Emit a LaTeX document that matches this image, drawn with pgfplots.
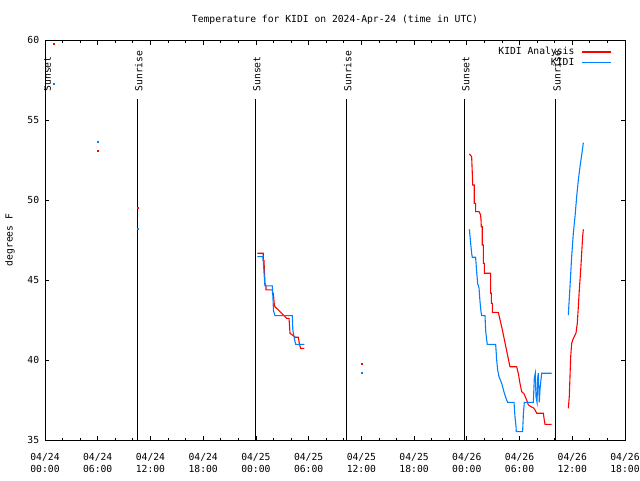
\documentclass[border=0pt]{standalone}
\usepackage{fontspec}
\setmainfont{DejaVu Sans Mono}
\usepackage{pgfplots}
\pgfplotsset{compat=1.18}
\usepackage{pgfplotstable}
\definecolor{kred}{RGB}{255,0,0}
\definecolor{kblue}{RGB}{0,128,255}
\newcommand\gf{\fontsize{9.7}{12}\selectfont}

\pgfplotstableread{
h T
24.16 46.67
24.84 46.67
24.84 46.21
24.92 46.21
25.03 44.79
25.15 44.60
25.15 44.38
25.87 44.38
25.87 44.17
25.98 44.17
26.10 43.44
26.17 43.33
27.31 42.71
27.50 42.60
27.77 42.60
27.88 41.67
28.50 41.42
28.83 41.42
28.95 41.00
29.09 40.73
29.51 40.73
}\redA
\pgfplotstableread{
h T
24.16 46.46
24.78 46.46
24.84 46.21
25.00 44.79
25.03 44.63
25.87 44.63
25.95 43.75
26.00 43.08
26.17 42.77
28.14 42.77
28.20 41.88
28.37 41.35
28.52 40.98
29.51 40.98
}\blueA
\pgfplotstableread{
h T
48.29 52.88
48.55 52.71
48.60 52.00
48.67 50.94
48.85 50.94
48.85 49.79
49.00 49.79
49.00 49.27
49.39 49.27
49.55 49.10
49.61 48.80
49.65 48.33
49.76 48.33
49.76 47.19
49.88 47.19
49.88 46.04
49.99 46.04
49.99 45.42
50.71 45.42
50.71 44.17
50.79 44.17
50.79 43.54
50.90 43.54
50.90 42.98
51.59 42.98
51.70 42.70
52.00 42.00
52.30 41.20
52.60 40.40
52.91 39.58
53.67 39.58
53.86 39.17
54.05 38.54
54.24 38.02
54.50 37.90
54.81 37.50
55.00 37.20
55.19 37.12
55.60 37.00
55.76 36.88
55.95 36.67
56.71 36.67
56.80 36.30
56.90 35.98
57.65 35.98
}\redB
\pgfplotstableread{
h T
48.29 48.17
48.44 47.29
48.55 46.67
48.62 46.42
49.00 46.42
49.12 45.52
49.23 44.79
49.39 44.50
49.50 43.65
49.61 43.02
49.69 42.77
50.07 42.77
50.14 41.88
50.26 41.25
50.33 40.98
51.28 40.98
51.40 40.00
51.51 39.38
51.66 38.96
51.97 38.54
52.27 37.92
52.53 37.50
52.65 37.35
53.37 37.35
53.48 36.46
53.60 35.83
53.63 35.52
54.35 35.52
54.43 36.56
54.54 37.35
55.57 37.35
55.68 38.85
55.79 39.17
55.87 37.71
55.99 37.35
56.06 38.85
56.13 39.17
56.25 37.35
56.33 38.20
56.52 39.17
57.66 39.17
}\blueB
\pgfplotstableread{
h T
59.55 36.98
59.66 37.71
59.74 38.96
59.82 40.21
59.93 41.04
60.12 41.35
60.42 41.67
60.57 42.29
60.69 43.33
60.80 44.38
60.96 45.63
61.07 46.67
61.18 47.71
61.26 48.17
}\redC
\pgfplotstableread{
h T
59.55 42.81
59.74 44.58
59.93 46.46
60.12 47.92
60.31 48.96
60.50 50.21
60.69 51.25
60.88 52.08
61.07 52.81
61.26 53.58
}\blueC
\pgfplotstableread{
h T
1.06 59.73
6.07 53.04
10.62 49.48
36.10 39.73
}\redD
\pgfplotstableread{
h T
1.06 57.23
6.07 53.60
10.62 48.17
36.10 39.17
}\blueD

\begin{document}
\begin{tikzpicture}[font=\gf]
\path (-45pt,-40pt) rectangle (595pt,440pt);
\begin{axis}[
  at={(0,0)}, anchor=south west,
  scale only axis, width=580pt, height=400pt,
  xmin=0, xmax=66, ymin=35, ymax=60,
  xtick={0,6,...,66},
  xticklabels={04/24\\00:00,04/24\\06:00,04/24\\12:00,04/24\\18:00,04/25\\00:00,04/25\\06:00,04/25\\12:00,04/25\\18:00,04/26\\00:00,04/26\\06:00,04/26\\12:00,04/26\\18:00},
  minor x tick num=2,
  ytick={35,40,...,60},
  tick pos=both, tick align=inside,
  major tick length=4.5pt, minor tick length=2.5pt,
  every tick/.style={black, line width=0.8pt},
  axis line style={line width=0.8pt},
  xticklabel style={align=center, font=\gf, inner xsep=0pt, yshift=-9pt},
  yticklabel style={font=\gf, xshift=-2pt},
  /pgf/number format/assume math mode=true,
  title={Temperature for KIDI on 2024-Apr-24 (time in UTC)},
  title style={at={(0.5,1)}, anchor=center, yshift=14pt, font=\gf},
  ylabel={degrees F},
  ylabel style={at={(axis description cs:-0.0603,0.5)}, anchor=center, font=\gf},
  legend style={draw=none, fill=none, at={(1,1)}, anchor=north east, xshift=-13pt, yshift=-6pt, inner sep=0pt, font=\gf, column sep=6pt, nodes={inner sep=1pt}},
  legend cell align=right,
  legend plot pos=right,
  legend image code/.code={\draw[#1] (0pt,0pt) -- (29pt,0pt);},
  line width=1.1pt,
]
\addplot[kred, line width=1.1pt] table[x=h,y=T] {\redA};
\addlegendentry{KIDI Analysis}
\addplot[kblue, line width=1.1pt] table[x=h,y=T] {\blueA};
\addlegendentry{KIDI}
\addplot[kred, line width=1.1pt, forget plot] table[x=h,y=T] {\redB};
\addplot[kblue, line width=1.1pt, forget plot] table[x=h,y=T] {\blueB};
\addplot[kred, line width=1.1pt, forget plot] table[x=h,y=T] {\redC};
\addplot[kblue, line width=1.1pt, forget plot] table[x=h,y=T] {\blueC};
\addplot[kred, only marks, mark=square*, mark size=0.5pt, forget plot] table[x=h,y=T] {\redD};
\addplot[kblue, only marks, mark=square*, mark size=0.5pt, forget plot] table[x=h,y=T] {\blueD};
% sunrise / sunset lines
\addplot[black, line width=0.8pt, forget plot] coordinates {(0,35) (0,56.31)};
\addplot[black, line width=0.8pt, forget plot] coordinates {(10.5,35) (10.5,56.31)};
\addplot[black, line width=0.8pt, forget plot] coordinates {(23.95,35) (23.95,56.31)};
\addplot[black, line width=0.8pt, forget plot] coordinates {(34.27,35) (34.27,56.31)};
\addplot[black, line width=0.8pt, forget plot] coordinates {(47.72,35) (47.72,56.31)};
\addplot[black, line width=0.8pt, forget plot] coordinates {(58.08,35) (58.08,56.31)};
\node[rotate=90, anchor=west, inner sep=0pt, font=\gf] at (axis cs:0.27,56.75) {Sunset};
\node[rotate=90, anchor=west, inner sep=0pt, font=\gf] at (axis cs:10.67,56.75) {Sunrise};
\node[rotate=90, anchor=west, inner sep=0pt, font=\gf] at (axis cs:24.12,56.75) {Sunset};
\node[rotate=90, anchor=west, inner sep=0pt, font=\gf] at (axis cs:34.44,56.75) {Sunrise};
\node[rotate=90, anchor=west, inner sep=0pt, font=\gf] at (axis cs:47.89,56.75) {Sunset};
\node[rotate=90, anchor=west, inner sep=0pt, font=\gf] at (axis cs:58.25,56.75) {Sunrise};
\end{axis}
\end{tikzpicture}
\end{document}
